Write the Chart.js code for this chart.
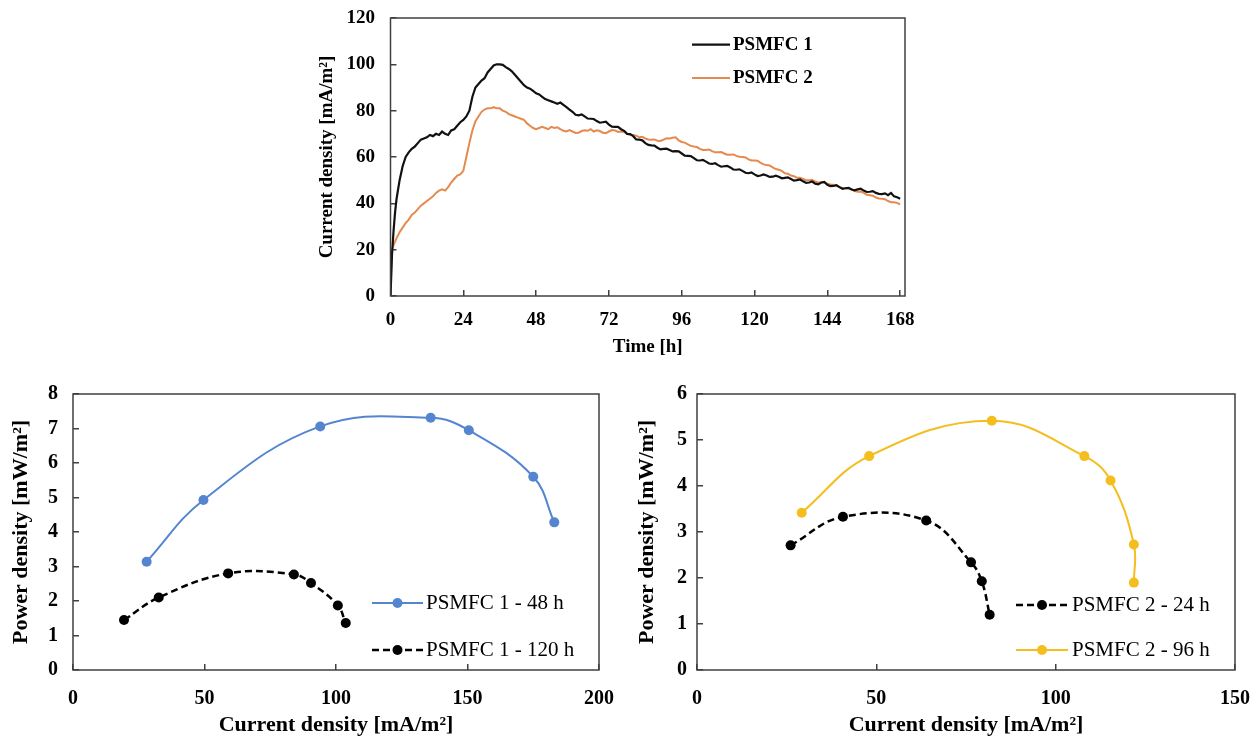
<!DOCTYPE html>
<html lang="en">
<head>
<meta charset="UTF-8">
<title>PSMFC current and power density</title>
<script src="https://cdn.jsdelivr.net/npm/chart.js"></script>
<style>
  body { margin: 0; background: #fff; width: 1256px; height: 741px; overflow: hidden; position: relative; }
  canvas { position: absolute; }
  #chartTime { left: 310px; top: 0; }
  #chartP1 { left: 0; top: 375px; }
  #chartP2 { left: 625px; top: 375px; }
</style>
</head>
<body>
<canvas id="chartTime" width="610" height="360"></canvas>
<canvas id="chartP1" width="620" height="366"></canvas>
<canvas id="chartP2" width="631" height="366"></canvas>

<script>
// ---- data ----

// top: current density over time
var timeTicks = [0, 24, 48, 72, 96, 120, 144, 168];

var psmfc1Curve = [
  [0, 0], [0.5, 18], [1, 28], [1.5, 36], [2, 42], [3, 50], [4, 56], [5, 60], [6, 62], [7, 63.5],
  [8, 64.5], [9, 66], [10, 67.5], [11, 68], [12, 68.5], [13, 69.5], [14, 69], [15, 70], [16, 69.5], [17, 71],
  [18, 70], [19, 69.5], [20, 71.5], [21, 72], [22, 73.5], [23, 75], [24, 76], [25, 77.5], [26, 80], [27, 86],
  [28, 90], [29, 91.5], [30, 93], [31, 94], [32, 96.5], [33, 98], [34, 99.5], [35, 100], [36, 100], [37, 99.8],
  [38, 98.8], [39, 98], [40, 97], [41, 95.5], [42, 94], [43, 92.5], [44, 91], [45, 90], [46, 89.5], [47, 88.5],
  [48, 87.5], [49, 87], [50, 86], [51, 85], [52, 84.5], [53, 84], [54, 83.5], [55, 83], [56, 83.5], [57, 82.5],
  [58, 81.5], [59, 80.5], [60, 79.5], [61, 78.2], [62, 78], [63, 78.4], [64, 77.5], [65, 76.6], [66, 76.5], [67, 76.4],
  [68, 75.5], [69, 74.8], [70, 75], [71, 75.2], [72, 74], [73, 73.1], [74, 73], [75, 73], [76, 72], [77, 71.3],
  [78, 70], [79, 69.9], [80, 69], [81, 67.6], [82, 67.5], [83, 67.2], [84, 66], [85, 65.2], [86, 65], [87, 64.9],
  [88, 64], [89, 63.3], [90, 63.5], [91, 63.6], [92, 63], [93, 62.4], [94, 62.5], [95, 62.4], [96, 61.5], [97, 60.6],
  [98, 60.5], [99, 60.4], [100, 59.5], [101, 58.6], [102, 58.5], [103, 58.7], [104, 58], [105, 57.2], [106, 57], [107, 57.3],
  [108, 56.5], [109, 55.8], [110, 56], [111, 56.2], [112, 55.5], [113, 54.6], [114, 54.5], [115, 54.7], [116, 54], [117, 53.2],
  [118, 53], [119, 53.3], [120, 52.5], [121, 51.8], [122, 52], [123, 52.5], [124, 52], [125, 51.4], [126, 51.5], [127, 51.9],
  [128, 51.5], [129, 50.8], [130, 51], [131, 51.2], [132, 50.5], [133, 49.8], [134, 50], [135, 50.3], [136, 49.5], [137, 48.8],
  [138, 49], [139, 49.4], [140, 48.5], [141, 48.2], [142, 49], [143, 49.2], [144, 48], [145, 47.4], [146, 47.5], [147, 47.8],
  [148, 47], [149, 46.3], [150, 46.5], [151, 46.7], [152, 46], [153, 45.6], [154, 46], [155, 46.3], [156, 45.5], [157, 44.9],
  [158, 45], [159, 45.3], [160, 44.5], [161, 44.1], [162, 44], [163, 44.3], [164, 43.5], [165, 44.5], [166, 43], [167, 42.6],
  [168, 42]
];

var psmfc2Curve = [
  [0, 0], [0.3, 15], [0.6, 20], [1, 22], [2, 25], [3, 27.5], [4, 29.5], [5, 31.5], [6, 33], [7, 35],
  [8, 36], [9, 37.5], [10, 39], [11, 40], [12, 41], [13, 42], [14, 43], [15, 44.5], [16, 45.5], [17, 46],
  [18, 45.5], [19, 47], [20, 49], [21, 50.5], [22, 52], [23, 52.5], [24, 54], [25, 60], [26, 66], [27, 71.5],
  [28, 75.5], [29, 77.5], [30, 79.5], [31, 80.5], [32, 81], [33, 81], [34, 81.5], [35, 81], [36, 81], [37, 80],
  [38, 79.5], [39, 78.5], [40, 78], [41, 77.5], [42, 77], [43, 76.5], [44, 76], [45, 74.5], [46, 73.5], [47, 72.5],
  [48, 72], [49, 72.5], [50, 73], [51, 72.5], [52, 72], [53, 73], [54, 72.5], [55, 72.8], [56, 72], [57, 71.3],
  [58, 71], [59, 71.6], [60, 71], [61, 70.4], [62, 70.5], [63, 71.2], [64, 71.5], [65, 71.3], [66, 72], [67, 71],
  [68, 71.5], [69, 71.2], [70, 70.5], [71, 70.3], [72, 71], [73, 71.6], [74, 71.5], [75, 70.8], [76, 71], [77, 70.8],
  [78, 70], [79, 69.6], [80, 69.5], [81, 69.2], [82, 68.5], [83, 68.7], [84, 68], [85, 67.6], [86, 67.5], [87, 67.6],
  [88, 67], [89, 66.9], [90, 67.5], [91, 68.1], [92, 68], [93, 68.3], [94, 68.5], [95, 67.2], [96, 66.5], [97, 66.2],
  [98, 65.5], [99, 64.8], [100, 64.5], [101, 64.3], [102, 63.5], [103, 63], [104, 63], [105, 63.2], [106, 62.5], [107, 62],
  [108, 62], [109, 62.1], [110, 61.5], [111, 61], [112, 61], [113, 61.1], [114, 60.5], [115, 60.1], [116, 60], [117, 59.8],
  [118, 59], [119, 58.5], [120, 58.5], [121, 58.4], [122, 57.5], [123, 56.8], [124, 56.5], [125, 56.3], [126, 55.5], [127, 54.8],
  [128, 54.5], [129, 54], [130, 53], [131, 52.8], [132, 52], [133, 51.7], [134, 51], [135, 51], [136, 50.5], [137, 50],
  [138, 50], [139, 50.1], [140, 49.5], [141, 49], [142, 49], [143, 49], [144, 48.5], [145, 48.1], [146, 48], [147, 47.7],
  [148, 47], [149, 46.6], [150, 46.5], [151, 46.5], [152, 46], [153, 45.3], [154, 45], [155, 45.1], [156, 44.5], [157, 43.7],
  [158, 43.5], [159, 43.3], [160, 42.5], [161, 42.1], [162, 42], [163, 41.8], [164, 41], [165, 40.5], [166, 40.5], [167, 40.2],
  [168, 39.5]
];

// bottom left: PSMFC 1 polarisation
var current48h = [28, 49.6, 94, 136, 150.5, 175, 183];
var power48h = [3.14, 4.93, 7.06, 7.31, 6.95, 5.6, 4.28];
var current120h = [19.4, 32.6, 59, 84, 90.5, 100.7, 103.7];
var power120h = [1.45, 2.1, 2.8, 2.77, 2.52, 1.87, 1.36];

// bottom right: PSMFC 2 polarisation
var current24h = [26.1, 40.7, 63.9, 76.4, 79.4, 81.6];
var power24h = [2.71, 3.33, 3.25, 2.34, 1.93, 1.2];
var current96h = [29.2, 48, 82.2, 108, 115.3, 121.8, 121.8];
var power96h = [3.42, 4.65, 5.42, 4.65, 4.12, 2.73, 1.9];

// ---- helpers ----
var SERIF = '"Liberation Serif", "Times New Roman", serif';
var AXIS_COLOR = '#404040';

Chart.defaults.font.family = SERIF;
Chart.defaults.color = '#000';

function toPoints(xs, ys) {
  return xs.map(function (x, i) { return { x: x, y: ys[i] }; });
}
function pairsToPoints(pairs) {
  return pairs.map(function (p) { return { x: p[0], y: p[1] }; });
}

// box round the plot area
var framePlugin = {
  id: 'frame',
  afterDraw: function (chart) {
    var a = chart.chartArea, ctx = chart.ctx;
    ctx.save();
    ctx.strokeStyle = AXIS_COLOR;
    ctx.lineWidth = 1.5;
    ctx.strokeRect(a.left, a.top, a.right - a.left, a.bottom - a.top);
    ctx.restore();
  }
};

// Excel style legend sitting inside the plot
var insideLegend = {
  id: 'insideLegend',
  afterDraw: function (chart, args, opts) {
    var ctx = chart.ctx, a = chart.chartArea;
    ctx.save();
    ctx.font = opts.font;
    ctx.textBaseline = 'middle';
    ctx.textAlign = 'left';
    chart.data.datasets.forEach(function (ds, i) {
      var x0 = a.left + opts.left;
      var x1 = x0 + opts.lineLength;
      var y = a.top + opts.rows[i];
      ctx.strokeStyle = ds.borderColor;
      ctx.lineWidth = ds.borderWidth;
      ctx.setLineDash(ds.borderDash || []);
      ctx.beginPath();
      ctx.moveTo(x0, y);
      ctx.lineTo(x1, y);
      ctx.stroke();
      ctx.setLineDash([]);
      if (ds.pointRadius > 0) {
        ctx.fillStyle = ds.pointBackgroundColor;
        ctx.beginPath();
        ctx.arc((x0 + x1) / 2, y, ds.pointRadius, 0, Math.PI * 2);
        ctx.fill();
      }
      ctx.fillStyle = '#000';
      ctx.fillText(ds.label, x1 + opts.gap, y);
    });
    ctx.restore();
  }
};

function xAxis(cfg) {
  return {
    type: 'linear',
    min: cfg.min, max: cfg.max,
    border: { display: false },
    grid: { drawOnChartArea: false, drawTicks: true, tickLength: -6, color: AXIS_COLOR, lineWidth: 1.5 },
    ticks: { font: { size: cfg.tickSize, weight: 'bold' }, padding: cfg.tickPad, maxRotation: 0, color: '#000' },
    afterBuildTicks: function (s) { s.ticks = cfg.ticks.map(function (v) { return { value: v }; }); },
    title: { display: true, text: cfg.title, font: { size: cfg.titleSize, weight: 'bold' }, padding: { top: 0, bottom: cfg.titlePad }, color: '#000' },
    afterFit: function (s) { s.height = cfg.height; s.paddingLeft = 0; s.paddingRight = 0; }
  };
}

function yAxis(cfg) {
  return {
    type: 'linear',
    min: cfg.min, max: cfg.max,
    border: { display: false },
    grid: { drawOnChartArea: false, drawTicks: true, tickLength: -6, color: AXIS_COLOR, lineWidth: 1.5 },
    ticks: { font: { size: cfg.tickSize, weight: 'bold' }, padding: cfg.tickPad, stepSize: cfg.step, color: '#000' },
    title: { display: true, text: cfg.title, font: { size: cfg.titleSize, weight: 'bold' }, padding: { top: cfg.titlePad, bottom: 0 }, color: '#000' },
    afterFit: function (s) { s.width = cfg.width; s.paddingTop = 0; s.paddingBottom = 0; }
  };
}

// ---- top chart ----
new Chart(document.getElementById('chartTime'), {
  type: 'scatter',
  data: {
    datasets: [
      { label: 'PSMFC 1', data: pairsToPoints(psmfc1Curve), showLine: true, borderColor: '#111111', borderWidth: 2.2, pointRadius: 0, tension: 0 },
      { label: 'PSMFC 2', data: pairsToPoints(psmfc2Curve), showLine: true, borderColor: '#E58A4E', borderWidth: 2, pointRadius: 0, tension: 0 }
    ]
  },
  options: {
    responsive: false,
    animation: false,
    layout: { padding: { top: 18, right: 15, left: 0, bottom: 0 } },
    scales: {
      x: xAxis({ min: 0, max: 169.6, ticks: timeTicks, tickSize: 19, tickPad: 19, title: 'Time [h]', titleSize: 19, titlePad: 2, height: 64 }),
      y: yAxis({ min: 0, max: 120, step: 20, tickSize: 19, tickPad: 21.5, title: 'Current density [mA/m²]', titleSize: 19, titlePad: 6, width: 80.5 })
    },
    plugins: {
      legend: { display: false },
      tooltip: { enabled: false },
      insideLegend: { font: 'bold 19px ' + SERIF, left: 301.5, lineLength: 38, gap: 3, rows: [26.7, 60] }
    }
  },
  plugins: [framePlugin, insideLegend]
});

// ---- bottom left chart ----
new Chart(document.getElementById('chartP1'), {
  type: 'scatter',
  data: {
    datasets: [
      { label: 'PSMFC 1 - 48 h', data: toPoints(current48h, power48h), showLine: true, tension: 0.4,
        borderColor: '#5585CF', borderWidth: 2, pointRadius: 5, pointBackgroundColor: '#5585CF', pointBorderWidth: 0 },
      { label: 'PSMFC 1 - 120 h', data: toPoints(current120h, power120h), showLine: true, tension: 0.4,
        borderColor: '#000', borderWidth: 2.5, borderDash: [7, 4], pointRadius: 5, pointBackgroundColor: '#000', pointBorderWidth: 0 }
    ]
  },
  options: {
    responsive: false,
    animation: false,
    layout: { padding: { top: 19, right: 21, left: 0, bottom: 0 } },
    scales: {
      x: xAxis({ min: 0, max: 200, ticks: [0, 50, 100, 150, 200], tickSize: 20, tickPad: 23, title: 'Current density [mA/m²]', titleSize: 22, titlePad: 2, height: 71 }),
      y: yAxis({ min: 0, max: 8, step: 1, tickSize: 20, tickPad: 21, title: 'Power density [mW/m²]', titleSize: 22, titlePad: 8, width: 73 })
    },
    plugins: {
      legend: { display: false },
      tooltip: { enabled: false },
      insideLegend: { font: '21px ' + SERIF, left: 299, lineLength: 51, gap: 3, rows: [209, 256] }
    }
  },
  plugins: [framePlugin, insideLegend]
});

// ---- bottom right chart ----
new Chart(document.getElementById('chartP2'), {
  type: 'scatter',
  data: {
    datasets: [
      { label: 'PSMFC 2 - 24 h', data: toPoints(current24h, power24h), showLine: true, tension: 0.4,
        borderColor: '#000', borderWidth: 2.5, borderDash: [7, 4], pointRadius: 5, pointBackgroundColor: '#000', pointBorderWidth: 0 },
      { label: 'PSMFC 2 - 96 h', data: toPoints(current96h, power96h), showLine: true, tension: 0.4,
        borderColor: '#F3BE1E', borderWidth: 2, pointRadius: 5, pointBackgroundColor: '#F3BE1E', pointBorderWidth: 0 }
    ]
  },
  options: {
    responsive: false,
    animation: false,
    layout: { padding: { top: 19, right: 21, left: 0, bottom: 0 } },
    scales: {
      x: xAxis({ min: 0, max: 150, ticks: [0, 50, 100, 150], tickSize: 20, tickPad: 23, title: 'Current density [mA/m²]', titleSize: 22, titlePad: 2, height: 71 }),
      y: yAxis({ min: 0, max: 6, step: 1, tickSize: 20, tickPad: 16, title: 'Power density [mW/m²]', titleSize: 22, titlePad: 9, width: 72 })
    },
    plugins: {
      legend: { display: false },
      tooltip: { enabled: false },
      insideLegend: { font: '21px ' + SERIF, left: 319, lineLength: 52, gap: 4, rows: [211, 256] }
    }
  },
  plugins: [framePlugin, insideLegend]
});
</script>
</body>
</html>
